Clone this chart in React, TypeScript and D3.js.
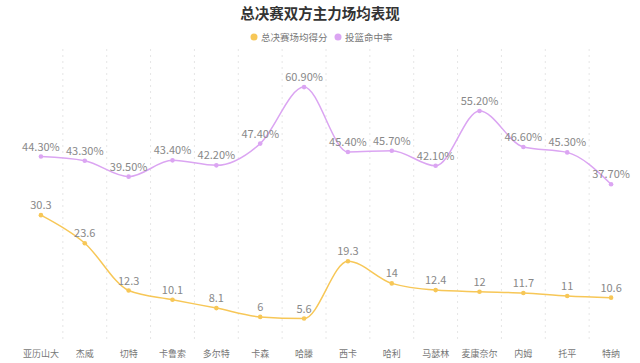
import { useEffect, useRef } from 'react'
import * as d3 from 'd3'

const players = ['亚历山大', '杰威', '切特', '卡鲁索', '多尔特', '卡森', '哈滕', '西卡', '哈利', '马瑟林', '麦康奈尔', '内姆', '托平', '特纳']
const points = [30.3, 23.6, 12.3, 10.1, 8.1, 6, 5.6, 19.3, 14, 12.4, 12, 11.7, 11, 10.6]
const fgPct = [44.3, 43.3, 39.5, 43.4, 42.2, 47.4, 60.9, 45.4, 45.7, 42.1, 55.2, 46.6, 45.3, 37.7]

const W = 640
const H = 363
const M = { top: 49, right: 7, bottom: 21, left: 19 }
const FONT = '"Noto Sans CJK SC", "Noto Sans", sans-serif'

const series = [
  { name: '总决赛场均得分', values: points, color: '#f7c757', fmt: (v: number) => String(v) },
  { name: '投篮命中率', values: fgPct, color: '#dba5f2', fmt: (v: number) => v.toFixed(2) + '%' },
]

export default function App() {
  const ref = useRef<SVGSVGElement>(null)

  useEffect(() => {
    const svg = d3.select(ref.current)
    svg.selectAll('*').remove()

    const x = d3.scaleBand().domain(players).range([M.left, W - M.right])
    const y = d3.scaleLinear().domain([0, 70]).range([H - M.bottom, M.top])
    const cx = (d: string) => (x(d) ?? 0) + x.bandwidth() / 2

    // title
    svg.append('text')
      .attr('x', W / 2).attr('y', 19)
      .attr('text-anchor', 'middle')
      .attr('font-family', FONT).attr('font-size', 14.5).attr('font-weight', 'bold')
      .attr('fill', '#333')
      .text('总决赛双方主力场均表现')

    // legend
    const legend = svg.append('g').attr('font-family', FONT).attr('font-size', 9.5)
    const lx = [254, 338]
    series.forEach((s, i) => {
      legend.append('circle').attr('cx', lx[i]).attr('cy', 37).attr('r', 3.5).attr('fill', s.color)
      legend.append('text').attr('x', lx[i] + 7).attr('y', 40.5).attr('fill', '#777').text(s.name)
    })

    // vertical dashed split lines
    const splits = players.slice(1).map(p => x(p) ?? 0)
    svg.append('g').selectAll('line').data(splits).join('line')
      .attr('x1', d => d).attr('x2', d => d)
      .attr('y1', M.top).attr('y2', H - M.bottom)
      .attr('stroke', '#e6e6e6').attr('stroke-dasharray', '2,4')

    // x axis labels
    svg.append('g')
      .attr('transform', `translate(0,${H - M.bottom})`)
      .call(d3.axisBottom(x).tickSize(0).tickPadding(9))
      .call(g => {
        g.select('.domain').remove()
        g.selectAll('text').attr('fill', '#777').attr('font-size', 9).attr('font-family', FONT)
      })

    const line = d3.line<number>()
      .x((_, i) => cx(players[i]))
      .y(d => y(d))
      .curve(d3.curveMonotoneX)

    series.forEach(s => {
      const g = svg.append('g')
      g.append('path')
        .datum(s.values)
        .attr('fill', 'none')
        .attr('stroke', s.color)
        .attr('stroke-width', 1.5)
        .attr('d', line)
      g.selectAll('circle').data(s.values).join('circle')
        .attr('cx', (_, i) => cx(players[i]))
        .attr('cy', d => y(d))
        .attr('r', 2.3)
        .attr('fill', s.color)
      g.selectAll('text').data(s.values).join('text')
        .attr('x', (_, i) => cx(players[i]))
        .attr('y', d => y(d) - 6)
        .attr('text-anchor', 'middle')
        .attr('font-family', FONT)
        .attr('font-size', 11)
        .attr('fill', '#888')
        .text(d => s.fmt(d))
    })
  }, [])

  return <svg ref={ref} width={W} height={H} style={{ position: 'absolute', left: 0, top: 0, background: '#fff' }} />
}
